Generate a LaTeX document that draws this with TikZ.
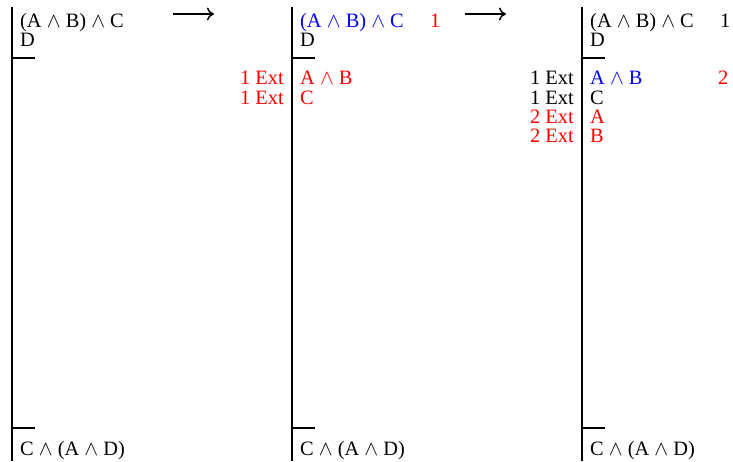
\documentclass[tikz,border=0pt]{standalone}
\usepackage{fontspec}
\setmainfont{Liberation Serif}
\usetikzlibrary{arrows.meta}
\newcommand\Wg{\ensuremath{\wedge}}
\begin{document}
\begin{tikzpicture}[x=1pt,y=-1pt,
  txt/.style={anchor=base west,inner sep=0pt,font=\fontsize{20.4}{20}\selectfont},
  lbl/.style={anchor=base east,inner sep=0pt,font=\fontsize{20.4}{20}\selectfont},
  rule/.style={line width=1.3pt},
  arr/.style={-{To[length=7pt,width=13pt,line width=1.5pt]},line width=1.8pt}]
\useasboundingbox (0,0) rectangle (733,461);
\definecolor{tred}{RGB}{255,0,0}
\definecolor{tblue}{RGB}{0,0,255}
% column 1
\coordinate (t1) at (12,7); \coordinate (b1) at (12,461);
\draw[rule] (t1) -- (b1);
\coordinate (h1a) at (12,58); \coordinate (h1b) at (35,58);
\draw[rule] (h1a) -- (h1b);
\coordinate (g1a) at (12,428); \coordinate (g1b) at (35,428);
\draw[rule] (g1a) -- (g1b);
\node[txt] (p1) at (20,27) {(A \Wg{} B) \Wg{} C};
\node[txt] (d1) at (20,46) {D};
\node[txt] (c1) at (20,455) {C \Wg{} (A \Wg{} D)};
% arrow 1
\coordinate (a1s) at (173,14); \coordinate (a1e) at (214,14);
\draw[arr] (a1s) -- (a1e);
% column 2
\coordinate (t2) at (292,7); \coordinate (b2) at (292,461);
\draw[rule] (t2) -- (b2);
\coordinate (h2a) at (292,58); \coordinate (h2b) at (315,58);
\draw[rule] (h2a) -- (h2b);
\coordinate (g2a) at (292,428); \coordinate (g2b) at (315,428);
\draw[rule] (g2a) -- (g2b);
\node[txt,text=tblue] (p2) at (300,27) {(A \Wg{} B) \Wg{} C};
\node[txt,text=tred] (n2) at (430,27) {1};
\node[txt] (d2) at (300,46) {D};
\node[lbl,text=tred] (e2a) at (284,84) {1 Ext};
\node[txt,text=tred] (f2a) at (300,84) {A \Wg{} B};
\node[lbl,text=tred] (e2b) at (284,104) {1 Ext};
\node[txt,text=tred] (f2b) at (300,104) {C};
\node[txt] (c2) at (300,455) {C \Wg{} (A \Wg{} D)};
% arrow 2
\coordinate (a2s) at (465,14); \coordinate (a2e) at (506,14);
\draw[arr] (a2s) -- (a2e);
% column 3
\coordinate (t3) at (582,7); \coordinate (b3) at (582,461);
\draw[rule] (t3) -- (b3);
\coordinate (h3a) at (582,58); \coordinate (h3b) at (605,58);
\draw[rule] (h3a) -- (h3b);
\coordinate (g3a) at (582,428); \coordinate (g3b) at (605,428);
\draw[rule] (g3a) -- (g3b);
\node[txt] (p3) at (590,27) {(A \Wg{} B) \Wg{} C};
\node[txt] (n3) at (720,27) {1};
\node[txt] (d3) at (590,46) {D};
\node[lbl] (e3a) at (574,84) {1 Ext};
\node[txt,text=tblue] (f3a) at (590,84) {A \Wg{} B};
\node[txt,text=tred] (n3b) at (718,84) {2};
\node[lbl] (e3b) at (574,104) {1 Ext};
\node[txt] (f3b) at (590,104) {C};
\node[lbl,text=tred] (e3c) at (574,123) {2 Ext};
\node[txt,text=tred] (f3c) at (590,123) {A};
\node[lbl,text=tred] (e3d) at (574,142) {2 Ext};
\node[txt,text=tred] (f3d) at (590,142) {B};
\node[txt] (c3) at (590,455) {C \Wg{} (A \Wg{} D)};
\end{tikzpicture}
\end{document}
